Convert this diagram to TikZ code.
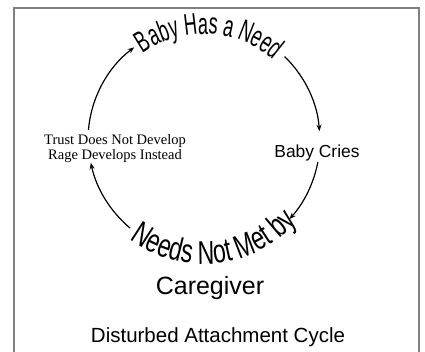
\documentclass[tikz,border=0pt]{standalone}
\usepackage{fontspec}
\setmainfont{Liberation Serif}
\setsansfont{Liberation Sans}
\newfontfamily\handfont{Liberation Sans}[FakeStretch=0.6]
\newfontfamily\handwide{Liberation Sans}[FakeStretch=0.7]
\usetikzlibrary{arrows.meta,decorations.text,calc}
\begin{document}
\begin{tikzpicture}[x=1pt,y=1pt,
  cyc/.style={line width=1.2pt,-{Stealth[length=6.5pt,width=5pt]}},
  frame/.style={draw=black!50,line width=2pt},
  lbl/.style={inner sep=0pt,font=\sffamily}]
\useasboundingbox (0,0) rectangle (425,352);
\path[frame] (14,-2) -- (14,344) -- (419,344) -- (419,-2);
\coordinate (c) at (204,212);
% curved texts
\coordinate (tneed) at ($(c)+(140:106)$);
\path[decorate,decoration={text along path,text align=center,
  text={|\handfont\fontsize{30}{36}\selectfont|Baby Has a Need}}]
  (tneed) arc[start angle=140,end angle=34,radius=106];
\coordinate (tmet) at ($(c)+(226:124)$);
\path[decorate,decoration={text along path,text align=center,
  text={|\handwide\fontsize{33}{40}\selectfont|Needs Not Met by}}]
  (tmet) arc[start angle=226,end angle=326,radius=124];
% straight texts
\node[lbl,font=\sffamily\fontsize{17.4}{20}\selectfont] (cries) at (317,199) {Baby Cries};
\node[inner sep=0pt,align=center,font=\rmfamily\fontsize{14.5}{13}\selectfont] (trust) at (115,203.5)
  {Trust Does Not Develop\\Rage Develops Instead};
\node[lbl,font=\sffamily\fontsize{25}{30}\selectfont] (care) at (210,64) {Caregiver};
\node[lbl,font=\sffamily\fontsize{20.5}{24}\selectfont] (title) at (218,15) {Disturbed Attachment Cycle};
% cycle arrows
\coordinate (a1) at ($(c)+(175:116)$);
\coordinate (a2) at ($(c)+(46:116)$);
\coordinate (a3) at ($(c)+(-11:116)$);
\coordinate (a4) at ($(c)+(230:115)$);
\draw[cyc] (a1) arc[start angle=175,end angle=127,radius=116];
\draw[cyc] (a2) arc[start angle=46,end angle=4,radius=115];
\draw[cyc] (a3) arc[start angle=-11,end angle=-42,radius=119];
\draw[cyc] (a4) arc[start angle=230,end angle=192,radius=117];
\end{tikzpicture}
\end{document}
